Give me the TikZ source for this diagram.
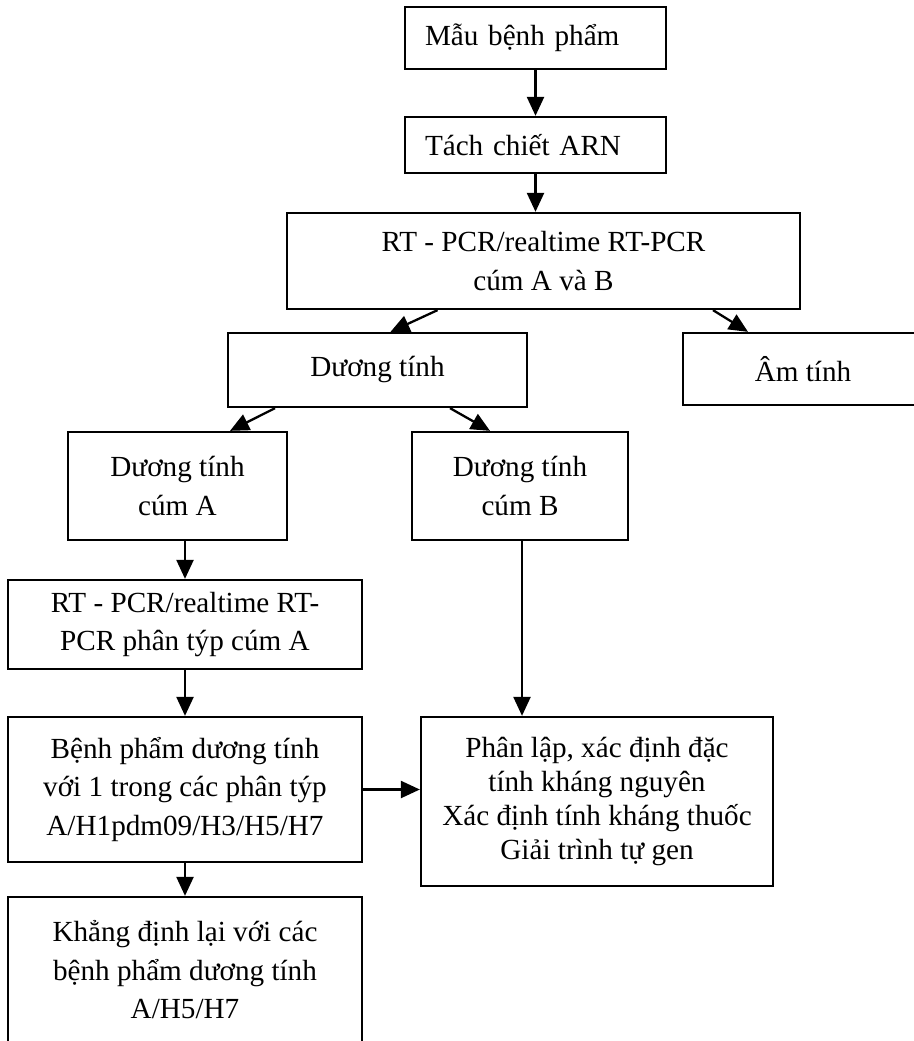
\documentclass[tikz,border=0pt]{standalone}
\usepackage{fontspec}
\setmainfont{Liberation Serif}
\usepackage{tikz}
\usetikzlibrary{positioning,arrows.meta,calc}
\tikzset{
  hop/.style={rectangle, draw=black, line width=1.3pt, align=center,
    inner sep=0pt, font=\fontsize{16.6}{21.9}\selectfont},
  hoptrai/.style={hop, align=left, inner xsep=4mm, text width=44.2mm},
  muiten/.style={-{Triangle[length=3.8mm,width=3.4mm]}, line width=1.3pt, draw=black},
}

\begin{document}
\begin{tikzpicture}[x=0.2mm,y=-0.2mm]
  \clip (0,0) rectangle (914,1041);
  \node[hoptrai, minimum height=12.4mm] (mau) at (535.5,38) {Mẫu bệnh phẩm};
  \node[hoptrai, minimum height=11.2mm] (tach) at (535.5,145) {Tách chiết ARN};
  \node[hop, minimum width=102.6mm, minimum height=19.2mm] (rt) at (543.5,261)
    {RT - PCR/realtime RT-PCR\\cúm A và B};
  \node[hop, minimum width=59.8mm, minimum height=14.8mm] (duong) at (377.5,370) {Dương tính};
  \node[hop, minimum width=48mm, minimum height=14.4mm] (am) at (803,369) {Âm tính};
  \node[hop, minimum width=43.8mm, minimum height=21.6mm] (cumA) at (177.5,486) {Dương tính\\cúm A};
  \node[hop, minimum width=43.2mm, minimum height=21.6mm] (cumB) at (520,486) {Dương tính\\cúm B};
  \node[hop, minimum width=70.8mm, minimum height=17.8mm] (ptyp) at (185,624.5)
    {RT - PCR/realtime RT-\\PCR phân týp cúm A};
  \node[hop, minimum width=70.8mm, minimum height=29mm] (benh) at (185,789.5)
    {Bệnh phẩm dương tính\\với 1 trong các phân týp\\A/H1pdm09/H3/H5/H7};
  \node[hop, minimum width=70.4mm, minimum height=33.8mm,
    font=\fontsize{16.6}{19.3}\selectfont] (phanlap) at (597,801.5)
    {Phân lập, xác định đặc\\tính kháng nguyên\\Xác định tính kháng thuốc\\Giải trình tự gen};
  \node[hop, minimum width=70.8mm, minimum height=29.2mm] (khang) at (185,970)
    {Khẳng định lại với các\\bệnh phẩm dương tính\\A/H5/H7};
  % mui ten
  \draw[muiten] (mau) -- (tach);
  \draw[muiten] (tach.south) -- (tach.south |- rt.north);
  \draw[muiten] ($(rt.south)+(-106,0)$) -- ($(duong.north)+(13,0)$);
  \draw[muiten] ($(rt.south)+(169.5,0)$) -- ($(am.north)+(-55,0)$);
  \draw[muiten] ($(duong.south)+(-102.5,0)$) -- ($(cumA.north)+(52.5,0)$);
  \draw[muiten] ($(duong.south)+(72.5,0)$) -- ($(cumB.north)+(-30,0)$);
  \draw[muiten] (cumA.south -| ptyp.north) -- (ptyp.north);
  \draw[muiten] (ptyp) -- (benh);
  \draw[muiten] ($(cumB.south)+(2,0)$) -- ($(cumB.south |- phanlap.north)+(2,0)$);
  \draw[muiten] (benh.east) -- (benh -| phanlap.west);
  \draw[muiten] (benh) -- (khang);
\end{tikzpicture}
\end{document}
